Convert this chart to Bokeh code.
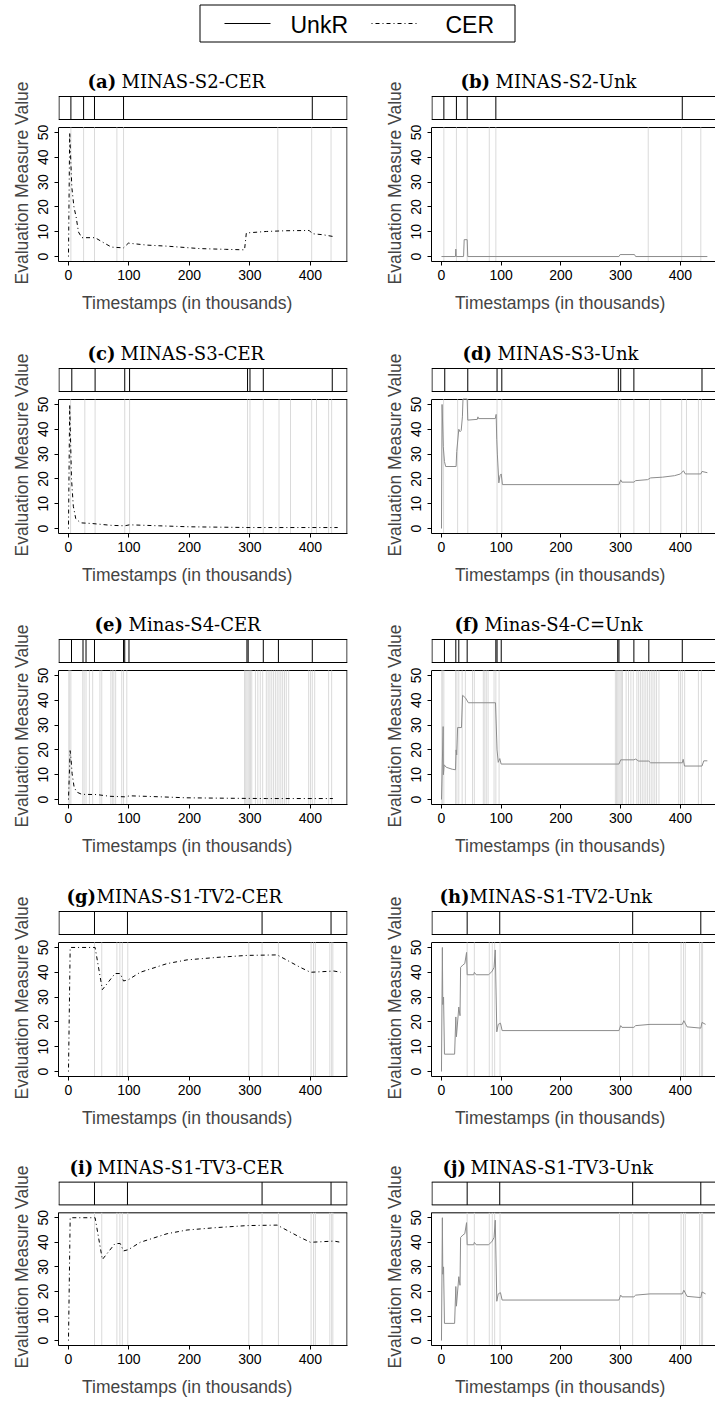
import numpy as np
from bokeh.plotting import figure
from bokeh.models import Range1d, FixedTicker, Title
from bokeh.layouts import column, row
from bokeh.embed import file_html
from bokeh.resources import INLINE
from bokeh.core.properties import value

SANS = "Liberation Sans"
SERIF = "DejaVu Serif"

# ---------------- data (timestamps in thousands) ----------------
# dataset S2
STRIP_S2 = [4, 25, 43, 91, 403]
GREY_S2 = [4, 25, 43, 80, 91, 346, 402, 434]
A_X = [0, 2, 5.5, 9, 12.6, 16.5, 22, 44, 55, 71, 91, 99, 130, 162, 217, 260, 291, 294, 327, 360, 398, 403, 420, 437]
A_Y = [0, 50, 28, 20, 16, 9.9, 7.6, 7.6, 6, 3.8, 3.5, 5.4, 4.6, 4.2, 3.2, 2.9, 2.7, 9.5, 10.1, 10.4, 10.5, 9.2, 8.8, 8.1]
B_X = [0, 23.4, 24, 24.6, 37, 38, 43, 44, 297, 299, 323, 325, 445]
B_Y = [0, 0, 3, 0, 0, 6.8, 6.8, 0, 0, 0.8, 0.8, 0, 0]

# dataset S3
STRIP_S3 = [5.5, 44, 93, 101, 296, 300, 322, 436]
GREY_S3 = [3.5, 27, 44, 93, 101, 296, 300, 322, 348, 367, 402, 410, 430, 435]
C_X = [0, 2, 3, 5, 8, 12, 20, 40, 70, 93, 101, 150, 200, 300, 445]
C_Y = [0, 50, 40, 20, 9, 4, 2.3, 2.0, 1.3, 1.1, 1.5, 1.1, 0.7, 0.4, 0.4]
D_X = [0, 1, 3, 5, 7, 24.5, 25.5, 29, 31, 33, 35, 36, 43, 44, 60, 61, 62, 90, 91.5, 92.5,
       93.5, 96, 98, 100, 102, 297, 300, 302, 322, 325, 345, 350, 370, 390, 400, 405,
       408, 411, 434, 436, 445]
D_Y = [0, 50, 33, 27, 25, 25, 31, 40, 39, 39.5, 45, 60, 60, 43.7, 44, 45, 44.3, 44.3, 46, 36,
       30, 18.4, 21.3, 22, 17.7, 17.7, 19.6, 18.7, 18.7, 19.3, 19.7, 20.4, 20.7, 21.3, 22, 23.3,
       22, 22, 22, 23, 22.5]

# dataset S4
STRIP_S4 = [5, 24, 29, 43, 91, 93, 100, 295, 297, 322, 347, 403]
GREY_S4 = [0.5, 2, 4, 23.6, 25.8, 29, 34.6, 40, 52, 55, 70, 72.5, 75, 78, 88, 91, 96.4,
           291, 293, 295, 297, 299, 301, 303, 309, 313, 317, 321, 327, 330, 333, 336, 339,
           342, 345, 348, 351, 354, 357, 360, 364, 397, 400, 403, 407, 430, 435]
E_X = [0, 2.7, 4.4, 6, 9.3, 13.7, 22, 46.7, 68.7, 93, 101.6, 151, 195, 272, 327, 437]
E_Y = [0, 19.7, 15.7, 10.4, 5, 3, 2.1, 2, 1.3, 1.1, 1.5, 1.1, 0.7, 0.5, 0.4, 0.4]
F_X = [0, 2.8, 3.2, 4.5, 8, 18, 23.5, 24.5, 25.5, 27, 33.5, 35.3, 40, 45, 90.4, 93, 95,
       97.6, 99.8, 297, 300, 322, 325, 330, 347, 350, 403, 404.5, 406.7, 436, 439, 445]
F_Y = [0, 29.4, 10, 14, 13, 12.2, 12, 20, 18, 29, 29, 42, 41, 39, 39, 20, 15,
       16.5, 14.3, 14.3, 16, 16, 16.3, 15.5, 15.5, 14.8, 14.8, 16.2, 13.5, 13.5, 15.6, 15.6]

# dataset S1-TV2 / S1-TV3
STRIP_S1 = [43, 97.5, 320, 434]
GREY_S1 = [43, 55, 80, 85, 89, 98, 298, 320, 347, 401, 405, 408, 432, 435, 437]
G_X = [0, 2.8, 44, 56, 77, 85.5, 91, 99, 118.6, 163, 196, 245.5, 295, 345, 383, 400, 416, 438.6, 450]
G_Y = [0, 50, 50, 33, 39.5, 39.5, 36.5, 37, 40, 43.5, 45, 46, 46.8, 47, 42, 40, 40.2, 40.5, 40]
H_X = [0, 1.5, 2.2, 3.5, 5, 22, 24, 25, 29, 31, 32, 36, 39, 42, 43, 54, 55, 58, 79, 85, 88,
       90, 92.6, 95, 98.7, 101.5, 297, 300, 302, 322, 325, 349, 403, 405.6, 411, 434, 436, 442]
H_Y = [0, 50, 27, 30, 7, 7, 22, 14, 26, 22.5, 42, 43, 43.5, 48, 39, 39, 40, 39, 39, 40.5, 42,
       49, 16, 19, 19.5, 16.5, 16.5, 18.5, 17.8, 17.8, 18.5, 19, 19, 20.5, 18, 17.5, 19.8, 19]
I_X = G_X
I_Y = G_Y
J_X = H_X
J_Y = H_Y

X_TICKS = [0, 100, 200, 300, 400]
Y_TICKS = [0, 10, 20, 30, 40, 50]
SERIES_NAMES = ["UnkR", "CER"]

# tag, name, kind, x, y, grey lines, strip lines, title left (px from x=0), name offset (px)
PANELS = [
    ("(a)", "MINAS-S2-CER", "CER", A_X, A_Y, GREY_S2, STRIP_S2, 19, 34),
    ("(b)", "MINAS-S2-Unk", "UnkR", B_X, B_Y, GREY_S2, STRIP_S2, 19, 35),
    ("(c)", "MINAS-S3-CER", "CER", C_X, C_Y, GREY_S3, STRIP_S3, 19, 33),
    ("(d)", "MINAS-S3-Unk", "UnkR", D_X, D_Y, GREY_S3, STRIP_S3, 21, 35),
    ("(e)", "Minas-S4-CER", "CER", E_X, E_Y, GREY_S4, STRIP_S4, 26, 34),
    ("(f)", "Minas-S4-C=Unk", "UnkR", F_X, F_Y, GREY_S4, STRIP_S4, 13, 30),
    ("(g)", "MINAS-S1-TV2-CER", "CER", G_X, G_Y, GREY_S1, STRIP_S1, -2, 30),
    ("(h)", "MINAS-S1-TV2-Unk", "UnkR", H_X, H_Y, GREY_S1, STRIP_S1, -2, 30),
    ("(i)", "MINAS-S1-TV3-CER", "CER", I_X, I_Y, GREY_S1, STRIP_S1, 1, 28),
    ("(j)", "MINAS-S1-TV3-Unk", "UnkR", J_X, J_Y, GREY_S1, STRIP_S1, 1, 28),
]

# ---------------- layout constants (page pixels) ----------------
PAGE_BOTTOM = 1404
ROW_TOP = [127, 399, 670, 942, 1213]   # page y of each plot box top
PLOT_H = 134
ABOVE = 70                              # frame area above plot box (strip + title)
Y0, Y1 = -2, 52
XR = {"L": (-16.5, 461.2), "R": (-16.7, 458.6)}
GEOM = {"L": (365, 58, 18), "R": (350, 66, 0)}   # width, border left, border right

CER_DASH = "1 3 4 3"
UNK_COLOR = "#8c8c8c"
GREY_LINE = "#dadada"


def panel(spec, side, r):
    tag, name, kind, xs_, ys_, grey, strip, tleft, ndx = spec
    fig_top = ROW_TOP[r] - ABOVE
    fig_bot = ROW_TOP[r + 1] - ABOVE if r < 4 else PAGE_BOTTOM
    H = fig_bot - fig_top
    frame_h = ABOVE + PLOT_H
    W, bl, br = GEOM[side]
    xs, xe = XR[side]
    fw = W - bl - br
    sx = fw / (xe - xs)
    sy = PLOT_H / (Y1 - Y0)
    ytop = Y1 + ABOVE / sy
    p = figure(width=W, height=H, x_range=Range1d(xs, xe), y_range=Range1d(Y0, ytop),
               output_backend="svg", toolbar_location=None,
               min_border_left=bl, min_border_right=br, min_border_top=0,
               min_border_bottom=H - frame_h, outline_line_color=None)
    p.xgrid.visible = False
    p.ygrid.visible = False

    for ax, ticks in ((p.xaxis, X_TICKS), (p.yaxis, Y_TICKS)):
        ax.ticker = FixedTicker(ticks=ticks)
        ax.minor_tick_line_color = None
        ax.major_tick_in = 0
        ax.major_tick_out = 4
        ax.major_label_text_font = SANS
        ax.major_label_text_font_size = "14px"
        ax.major_label_text_color = "black"
        ax.axis_line_color = "black"
        ax.major_tick_line_color = "black"
    p.xaxis.major_label_standoff = 4
    p.yaxis.major_label_standoff = 6
    p.yaxis.bounds = (Y0, Y1)
    p.yaxis.major_label_orientation = "vertical"

    p.add_layout(Title(text="Timestamps (in thousands)", align="left", offset=23.5,
                       text_font=SANS, text_font_size="17.5px", text_font_style="normal",
                       standoff=16), "below")
    p.add_layout(Title(text="Evaluation Measure Value", align="left", offset=-23,
                       text_font=SANS, text_font_size="17.5px", text_font_style="normal",
                       standoff=8), "left")

    hx = 0.5 / sx
    hy = 0.5 / sy
    # plot box top / right edges
    p.segment(x0=[xs], y0=[Y1], x1=[xe], y1=[Y1], line_color="black", line_width=1)
    if side == "L":
        p.segment(x0=[xe - hx], y0=[Y0], x1=[xe - hx], y1=[Y1], line_color="black", line_width=1)

    # light grey change lines
    p.segment(x0=grey, y0=[Y0] * len(grey), x1=grey, y1=[Y1] * len(grey),
              line_color=GREY_LINE, line_width=1)

    # series
    yy = np.minimum(np.array(ys_, dtype=float), Y1 + hy)
    if kind == "CER":
        p.line(xs_, yy, line_color="black", line_width=1, line_dash=CER_DASH)
    else:
        p.line(xs_, yy, line_color=UNK_COLOR, line_width=1)

    # strip
    s_lo = Y1 + 8 / sy
    s_hi = Y1 + 31 / sy
    p.segment(x0=[xs, xs], y0=[s_lo, s_hi], x1=[xe, xe], y1=[s_lo, s_hi], line_color="black")
    p.segment(x0=[xs + hx], y0=[s_lo], x1=[xs + hx], y1=[s_hi], line_color="black")
    if side == "L":
        p.segment(x0=[xe - hx], y0=[s_lo], x1=[xe - hx], y1=[s_hi], line_color="black")
    p.segment(x0=strip, y0=[s_lo] * len(strip), x1=strip, y1=[s_hi] * len(strip),
              line_color="black", line_width=1)

    # title
    t_base = Y1 + 46 / sy
    tx = tleft / sx
    p.text(x=[tx], y=[t_base], text=[tag], text_font=value(SERIF), text_font_style="bold",
           text_font_size="18px", text_baseline="alphabetic", text_align="left", text_color="black")
    p.text(x=[tx + ndx / sx], y=[t_base], text=[name], text_font=value(SERIF),
           text_font_style="normal", text_font_size="18px", text_baseline="alphabetic",
           text_align="left", text_color="black")
    return p


# legend figure (page pixel coordinates, y downwards)
LEG_H = ROW_TOP[0] - ABOVE
leg = figure(width=715, height=LEG_H, x_range=Range1d(0, 715), y_range=Range1d(LEG_H, 0),
             output_backend="svg", toolbar_location=None, min_border=0, outline_line_color=None)
leg.axis.visible = False
leg.xgrid.visible = False
leg.ygrid.visible = False
leg.quad(left=[199.5], right=[514.5], top=[4.5], bottom=[41.5], fill_color=None,
         line_color="black", line_width=1)
leg.line(x=[224, 270], y=[23, 23], line_color="black", line_width=1.2)
leg.line(x=[371, 417], y=[23, 23], line_color="black", line_width=1.2, line_dash=CER_DASH)
leg.text(x=[290, 445], y=[24, 24], text=SERIES_NAMES, text_font=value(SANS),
         text_font_size="23px", text_baseline="middle", text_align="left", text_color="black")

rows = []
for r in range(5):
    rows.append(row(panel(PANELS[2 * r], "L", r), panel(PANELS[2 * r + 1], "R", r)))

page = column(leg, *rows)
open("out.html", "w").write(file_html(page, INLINE))
